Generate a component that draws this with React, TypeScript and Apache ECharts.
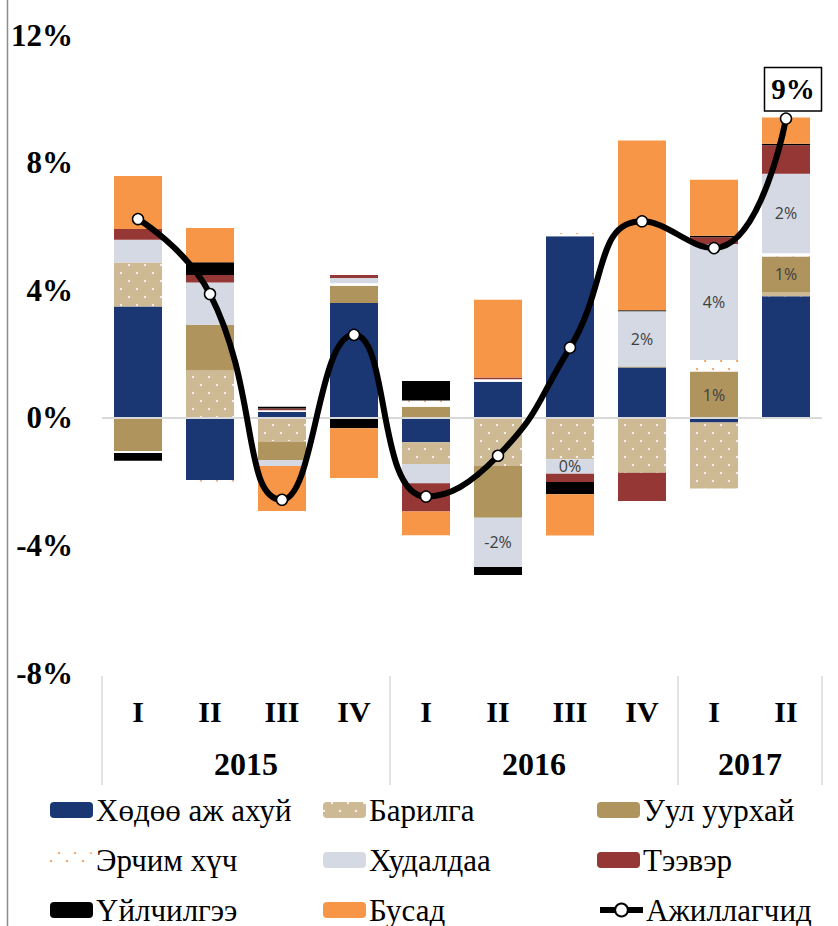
import React, { useEffect, useRef } from 'react';
import * as echarts from 'echarts';

const quarters = ['I', 'II', 'III', 'IV', 'I', 'II', 'III', 'IV', 'I', 'II'];
const years = ['2015', '2016', '2017'];
const yearQuarterCounts = [4, 4, 2];

const agriculture = [3.49, -1.95, 0.18, 3.6, -0.77, 1.13, 5.69, 1.58, -0.15, 3.81];
const construction = [1.38, 1.48, -0.74, 0, -0.68, -1.51, -1.3, -1.72, -2.07, 0.13];
const mining = [-1.04, 1.44, -0.58, 0.54, 0.35, -1.62, 0, 0.03, 1.45, 1.12];
const energy = [-0.06, -0.05, 0.06, 0.08, 0.19, 0.08, 0.1, 0, 0.36, 0.1];
const trade = [0.71, 1.32, -0.19, 0.16, -0.6, -1.55, -0.45, 1.73, 3.64, 2.49];
const transport = [0.34, 0.24, 0.05, 0.1, -0.89, 0.05, -0.26, -0.89, 0.21, 0.89];
const services = [-0.25, 0.4, 0.06, -0.33, 0.61, -0.25, -0.39, 0.03, 0.05, 0.05];
const other = [1.66, 1.07, -1.41, -1.56, -0.74, 2.44, -1.29, 5.32, 1.75, 0.82];
const employed = [6.23, 3.88, -2.57, 2.6, -2.47, -1.19, 2.2, 6.16, 5.32, 9.38];

const tradeLabelIdx = [5, 6, 7, 8, 9];
const miningLabelIdx = [8, 9];
const employedLabelIdx = [9];

const names = ['Хөдөө аж ахуй', 'Барилга', 'Уул уурхай', 'Эрчим хүч', 'Худалдаа', 'Тээвэр', 'Үйлчилгээ', 'Бусад', 'Ажиллагчид'];

const yMin = -8;
const yMax = 12;
const yInterval = 4;

const SERIF = '"Liberation Serif", "Times New Roman", serif';

export default function App() {
  const ref = useRef<HTMLDivElement>(null);
  useEffect(() => {
    document.body.style.margin = '0';
    const chart = echarts.init(ref.current!, undefined, { renderer: 'svg' });

    const categoryKeys: string[] = [];
    let qi = 0;
    years.forEach((y, yi) => {
      for (let k = 0; k < yearQuarterCounts[yi]; k++) {
        categoryKeys.push(y + '|' + quarters[qi]);
        qi++;
      }
    });

    const dots = (dotColor: string) => ({
      symbol: 'circle',
      symbolSize: 1,
      color: dotColor,
      dashArrayX: [[2, 14], [0, 8, 2, 6]],
      dashArrayY: [2, 6],
      rotation: 0,
    });

    const inBarLabel = (idxs: number[]) => ({
      show: true,
      position: 'inside',
      fontFamily: '"Open Sans", "Noto Sans", sans-serif',
      fontSize: 16,
      color: '#404040',
      formatter: (p: any) => (idxs.indexOf(p.dataIndex) >= 0 ? `${Math.round(p.value) === 0 ? 0 : Math.round(p.value)}%` : ''),
    });

    const barSeries = [
      { data: agriculture, itemStyle: { color: '#1A3673' } },
      { data: construction, itemStyle: { color: '#CDB993', decal: dots('#FFFFFF') } },
      { data: mining, itemStyle: { color: '#AF945E' }, label: inBarLabel(miningLabelIdx) },
      { data: energy, itemStyle: { color: '#FFFFFF', decal: dots('#F79646') } },
      { data: trade, itemStyle: { color: '#D5D9E3' }, label: inBarLabel(tradeLabelIdx) },
      { data: transport, itemStyle: { color: '#953735' } },
      { data: services, itemStyle: { color: '#000000' } },
      { data: other, itemStyle: { color: '#F79646' } },
    ].map((s, i) => ({
      name: names[i],
      type: 'bar',
      stack: 'total',
      barWidth: 48,
      data: s.data,
      itemStyle: s.itemStyle,
      label: (s as any).label,
      z: 2,
    }));

    const legendCols = [50, 323, 597];
    const legendRows = [810, 860, 910];
    const legends = names.map((n, i) => ({
      data: [n],
      left: legendCols[i % 3],
      top: legendRows[Math.floor(i / 3)] - 16,
      orient: 'horizontal',
      padding: 0,
      itemGap: 0,
      itemWidth: 43,
      itemHeight: 16,
      selectedMode: false,
      lineStyle: i === 8 ? { width: 6, color: '#000' } : undefined,
      textStyle: { fontFamily: SERIF, fontSize: 31, color: '#000', lineHeight: 32, padding: [0, 0, 0, -2] },
    }));

    const option: any = {
      animation: false,
      backgroundColor: '#fff',
      grid: { left: 102, right: 16, top: 35, bottom: 253, containLabel: false },
      legend: legends,
      xAxis: {
        type: 'category',
        data: categoryKeys,
        axisLine: { show: false },
        axisTick: { show: false },
        splitLine: { show: false },
        axisLabel: {
          interval: 0,
          margin: 23,
          fontFamily: SERIF,
          fontWeight: 'bold',
          fontSize: 30,
          color: '#000',
          formatter: (v: string) => v.split('|')[1],
        },
      },
      yAxis: {
        type: 'value',
        min: yMin,
        max: yMax,
        interval: yInterval,
        axisLine: { show: false },
        axisTick: { show: false },
        splitLine: { show: false },
        axisLabel: {
          margin: 29,
          fontFamily: SERIF,
          fontWeight: 'bold',
          fontSize: 31,
          color: '#000',
          formatter: '{value}%',
        },
      },
      series: [
        ...barSeries,
        {
          name: names[8],
          type: 'line',
          z: 10,
          smooth: 0.5,
          symbol: 'circle',
          symbolSize: 11,
          lineStyle: { color: '#000', width: 6 },
          itemStyle: { color: '#fff', borderColor: '#000', borderWidth: 1.5 },
          data: employed.map((v, i) => ({
            value: v,
            label: employedLabelIdx.indexOf(i) >= 0
              ? {
                  show: true,
                  position: 'top',
                  distance: 2,
                  offset: [7, 0],
                  formatter: (p: any) => `${Math.round(p.value)}%`,
                  fontFamily: SERIF,
                  fontWeight: 'bold',
                  fontSize: 29,
                  lineHeight: 34,
                  color: '#000',
                  backgroundColor: '#fff',
                  borderColor: '#000',
                  borderWidth: 1.5,
                  padding: [4, 6, 4, 6],
                }
              : { show: false },
          })),
          markLine: {
            silent: true,
            z: 3,
            symbol: ['none', 'none'],
            label: { show: false },
            lineStyle: { color: '#D9D9D9', width: 2, type: 'solid' },
            data: [{ yAxis: 0 }],
          },
        },
      ],
    };

    chart.setOption(option);

    const x0 = chart.convertToPixel({ xAxisIndex: 0 }, 0) as number;
    const x1 = chart.convertToPixel({ xAxisIndex: 0 }, 1) as number;
    const band = x1 - x0;
    const yBottom = chart.convertToPixel({ yAxisIndex: 0 }, yMin) as number;
    const graphics: any[] = [
      {
        type: 'line',
        shape: { x1: 7.5, y1: 0, x2: 7.5, y2: 926 },
        style: { stroke: '#8C8C8C', lineWidth: 1.5 },
      },
    ];
    let start = 0;
    const bounds: number[] = [x0 - band / 2];
    years.forEach((y, yi) => {
      const end = start + yearQuarterCounts[yi];
      const left = x0 + start * band - band / 2;
      const right = x0 + end * band - band / 2;
      bounds.push(right);
      graphics.push({
        type: 'text',
        x: (left + right) / 2,
        y: yBottom + 91,
        style: {
          text: y,
          fontFamily: SERIF,
          fontWeight: 'bold',
          fontSize: 32,
          fill: '#000',
          align: 'center',
          verticalAlign: 'middle',
        },
      });
      start = end;
    });
    bounds.forEach((bx) => {
      graphics.push({
        type: 'line',
        shape: { x1: bx, y1: yBottom + 3, x2: bx, y2: yBottom + 112 },
        style: { stroke: '#D9D9D9', lineWidth: 1.5 },
      });
    });
    chart.setOption({ graphic: graphics });

    return () => chart.dispose();
  }, []);
  return <div ref={ref} style={{ width: 838, height: 926 }} />;
}
